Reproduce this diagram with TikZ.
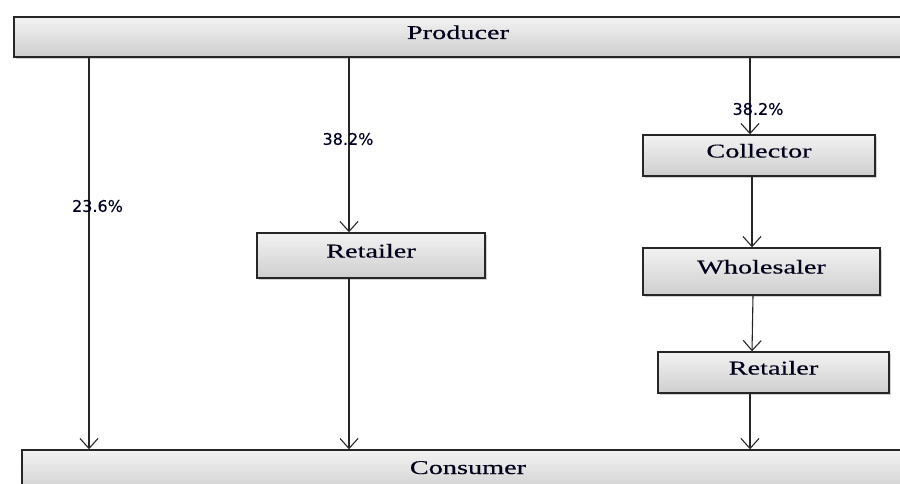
\documentclass[tikz,border=0pt]{standalone}
\usepackage{fontspec}
\setmainfont{Liberation Serif}
\newfontfamily\boxfont[BoldFont={Liberation Serif},BoldFeatures={FakeBold=0.3}]{Liberation Serif}
\newfontfamily\pctfont[BoldFont={DejaVu Sans},BoldFeatures={FakeBold=0.2}]{DejaVu Sans}
\usetikzlibrary{arrows.meta,shadows}
\newcommand\stretchtxt[1]{\scalebox{1.45}[1]{#1}}
\begin{document}
\begin{tikzpicture}[x=1pt,y=-1pt,
  box/.style={draw=black!85, line width=1.4pt, top color=gray!10, bottom color=gray!38,
    inner sep=0pt, text height=0.7em, text depth=0.3em,
    drop shadow={shadow xshift=1.8pt, shadow yshift=-1.8pt, opacity=0.35},
    font=\boxfont\bfseries\fontsize{19.5}{22}\selectfont, text=black!90!blue},
  pct/.style={font=\pctfont\bfseries\fontsize{16}{18}\selectfont, text=black!85!blue, inner sep=0pt},
  arr/.style={line width=1.1pt, draw=black!85, -{Straight Barb[length=10pt,width=18pt,line width=1.1pt]}}]
\useasboundingbox (0,0) rectangle (900,484);
\clip (0,0) rectangle (900,484);
\fill[white] (0,0) rectangle (900,484);
% boxes
\node[box, minimum width=888pt, minimum height=40pt] (prod) at (458,37) {\stretchtxt{Producer}};
\node[box, minimum width=892pt, minimum height=44pt] (cons) at (468,472) {\stretchtxt{Consumer}};
\node[box, minimum width=228pt, minimum height=45pt] (ret1) at (371,255.5) {\stretchtxt{Retailer}};
\node[box, minimum width=232pt, minimum height=41pt] (coll) at (759,155.5) {\stretchtxt{Collector}};
\node[box, minimum width=237pt, minimum height=47pt] (whole) at (761.5,271.5) {\stretchtxt{Wholesaler}};
\node[box, minimum width=231pt, minimum height=41pt] (ret2) at (773.5,372.5) {\stretchtxt{Retailer}};
% column coordinates
\coordinate (colA) at (89,0);
\coordinate (colB) at (349,0);
\coordinate (colC) at (750,0);
\coordinate (colD) at (752,0);
\coordinate (colE) at (753,0);
% connectors
\draw[arr] (prod.south -| colA) -- (cons.north -| colA);
\draw[arr] (prod.south -| colB) -- (ret1.north -| colB);
\draw[arr] (ret1.south -| colB) -- (cons.north -| colB);
\draw[arr] (prod.south -| colC) -- (coll.north -| colC);
\draw[arr] (coll.south -| colD) -- (whole.north -| colD);
\draw[arr] (whole.south -| colE) -- (ret2.north -| colD);
\draw[arr] (ret2.south -| colC) -- (cons.north -| colC);
% labels
\node[pct] (lA) at (97.5,206) {23.6\%};
\node[pct] (lB) at (348,139) {38.2\%};
\node[pct] (lC) at (758,109) {38.2\%};
\end{tikzpicture}
\end{document}
